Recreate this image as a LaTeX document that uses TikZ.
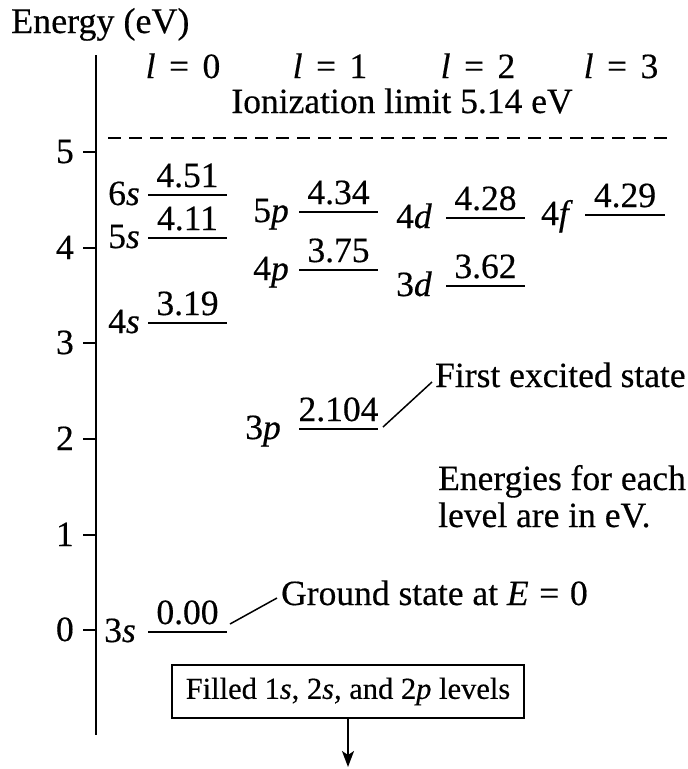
\documentclass[tikz,border=0pt]{standalone}
\usepackage{fontspec}
\setmainfont{Liberation Serif}[UprightFeatures={FakeBold=0.4},ItalicFeatures={FakeBold=0.4}]
\usetikzlibrary{arrows.meta}
\newcommand\bigfs{\fontsize{35.5}{42}\selectfont}
\newcommand\ylabfs{\fontsize{36}{42}\selectfont}
\newcommand\boxfs{\fontsize{30.5}{36}\selectfont}
\newcommand\elevel[7]{%
  \coordinate (#1L) at (#2,#4);
  \coordinate (#1R) at (#3,#4);
  \draw[lev] (#1L) -- (#1R);
  \node[txt,anchor=base] (#1v) at ({(#2+#3)/2},{#4-8}) {#6};
  \node[txt,anchor=base east] (#1n) at ({#2-#7},{#4+10}) {#5};
}
\tikzset{
  txt/.style={inner sep=0pt,font=\bigfs},
  lev/.style={line width=2.8pt},
  axisline/.style={line width=2.6pt},
  conn/.style={line width=1.5pt},
}
\begin{document}
\begin{tikzpicture}[x=1pt,y=-1pt]
\useasboundingbox (0,0) rectangle (688,769);
% axis
\node[txt,anchor=base west,font=\ylabfs] (ylab) at (11,33) {Energy (eV)};
\coordinate (axT) at (96,55);
\coordinate (axB) at (96,735);
\draw[axisline] (axT) -- (axB);
\foreach \v/\yy in {0/630,1/535,2/439,3/343,4/248,5/152}{
  \coordinate (tk\v) at (83,\yy);
  \coordinate (tkr\v) at (96,\yy);
  \draw[axisline] (tk\v) -- (tkr\v);
  \node[txt,anchor=base east] (tl\v) at (74,\yy+11) {\v};
}
% l labels
\foreach \l/\cx in {0/183,1/330,2/478,3/621}{
  \node[txt,anchor=base] (ll\l) at (\cx,78) {\textit{l}\hspace{0.38em}=\hspace{0.38em}\l};
}
% ionization
\node[txt,anchor=base] (ion) at (402,113) {Ionization limit 5.14 eV};
\coordinate (ionL) at (108,138);
\coordinate (ionR) at (673,138);
\draw[line width=2.2pt,dash pattern=on 13pt off 8pt] (ionL) -- (ionR);
% levels l=0
\elevel{s6}{148}{227}{195}{6\textit{s}}{4.51}{8}
\elevel{s5}{148}{227}{238}{5\textit{s}}{4.11}{8}
\elevel{s4}{148}{227}{323}{4\textit{s}}{3.19}{8}
\elevel{s3}{148}{227}{632}{3\textit{s}}{0.00}{12}
% l=1
\elevel{p5}{299}{378}{212}{5\textit{p}}{4.34}{10}
\elevel{p4}{299}{378}{270}{4\textit{p}}{3.75}{10}
\elevel{p3}{299}{378}{429}{3\textit{p}}{2.104}{18}
% l=2
\elevel{d4}{446}{525}{218}{4\textit{d}}{4.28}{14}
\elevel{d3}{446}{525}{286}{3\textit{d}}{3.62}{14}
% l=3
\elevel{f4}{585}{665}{215}{4\textit{f}}{4.29}{12}
% annotations
\node[txt,anchor=base west] (fes) at (435,387) {First excited state};
\coordinate (fexA) at (383,427);
\coordinate (fexB) at (432,382);
\draw[conn] (fexA) -- (fexB);
\node[txt,anchor=base west] (gs) at (281,605) {Ground state at \textit{E}\hspace{0.3em}=\hspace{0.3em}0};
\coordinate (gsA) at (230,624);
\coordinate (gsB) at (277,598);
\draw[conn] (gsA) -- (gsB);
\node[txt,anchor=base west] (en1) at (438,490) {Energies for each};
\node[txt,anchor=base west] (en2) at (438,527) {level are in eV.};
% box
\node[draw,line width=2pt,minimum width=352pt,minimum height=53pt,inner sep=0pt,font=\boxfs] (filled) at (348,691.5) {Filled 1\textit{s}, 2\textit{s}, and 2\textit{p} levels};
\coordinate (arrEnd) at (348,767);
\draw[line width=2pt,-{Stealth[length=16pt,width=12pt,inset=4pt]}] (filled.south) -- (arrEnd);
\end{tikzpicture}
\end{document}
